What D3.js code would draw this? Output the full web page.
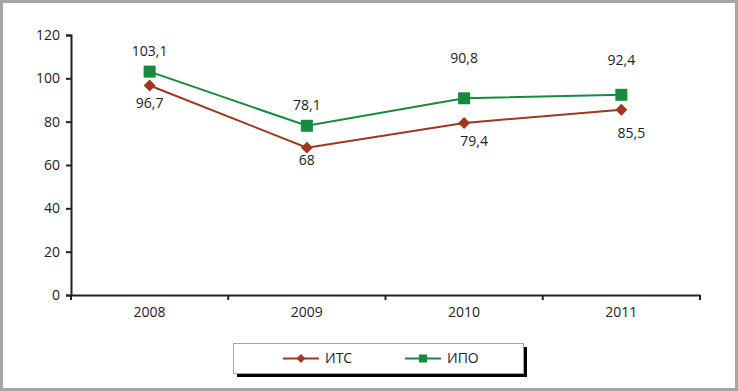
<!DOCTYPE html>
<html>
<head>
<meta charset="utf-8">
<script src="https://cdn.jsdelivr.net/npm/d3@7"></script>
<style>
  body { margin: 0; background: #fff; }
  svg { display: block; font-family: "Open Sans", sans-serif; }
</style>
</head>
<body>
<script>
// Data
const years = ["2008", "2009", "2010", "2011"];
const itsValues = [96.7, 68, 79.4, 85.5];
const ipoValues = [103.1, 78.1, 90.8, 92.4];
const yTicks = [0, 20, 40, 60, 80, 100, 120];

// label offsets (layout)
const itsLabelDy = [18, 12, 18, 23];
const itsLabelDx = [0, 0, 10, 10];
const ipoLabelDy = [-21, -21, -40, -35];

const width = 738, height = 391;
const margin = { left: 71, right: 38, top: 35, bottom: 96 };
const fontSize = 14;

const svg = d3.select("body").append("svg")
    .attr("width", width)
    .attr("height", height);

// outer frame
svg.append("rect")
    .attr("x", 1.5).attr("y", 1.5)
    .attr("width", width - 3).attr("height", height - 3)
    .attr("fill", "#fff")
    .attr("stroke", "#a6a6a6")
    .attr("stroke-width", 3);

const x = d3.scaleBand()
    .domain(years)
    .range([margin.left, width - margin.right]);

const y = d3.scaleLinear()
    .domain([0, 120])
    .range([height - margin.bottom, margin.top]);

// y axis
const yAxis = svg.append("g")
    .attr("transform", `translate(${margin.left},0)`)
    .call(d3.axisLeft(y).tickValues(yTicks).tickSize(5).tickPadding(6));
yAxis.select(".domain").attr("stroke", "#222").attr("stroke-width", 2);
yAxis.selectAll(".tick line").attr("stroke", "#222").attr("stroke-width", 2);
yAxis.selectAll("text").attr("font-size", fontSize).attr("fill", "#222")
    .attr("font-family", "Open Sans, sans-serif");

// x axis
const xAxis = svg.append("g")
    .attr("transform", `translate(0,${y(0)})`)
    .call(d3.axisBottom(x).tickSize(0).tickPadding(12));
xAxis.select(".domain").attr("stroke", "#222").attr("stroke-width", 2);
xAxis.selectAll("text").attr("font-size", fontSize).attr("fill", "#222")
    .attr("font-family", "Open Sans, sans-serif");

// category separator ticks
const bounds = years.map(d => x(d)).concat([x(years[years.length - 1]) + x.bandwidth()]);
svg.append("g").selectAll("line")
    .data(bounds)
    .join("line")
    .attr("x1", d => d).attr("x2", d => d)
    .attr("y1", y(0)).attr("y2", y(0) + 5)
    .attr("stroke", "#222")
    .attr("stroke-width", 2);

const cx = d => x(d) + x.bandwidth() / 2;

const itsColor = "#9e3720";
const ipoColor = "#178a3e";

const line = d3.line()
    .x(d => cx(d.year))
    .y(d => y(d.value));

const itsData = years.map((yr, i) => ({ year: yr, value: itsValues[i] }));
const ipoData = years.map((yr, i) => ({ year: yr, value: ipoValues[i] }));

// ИТС line
svg.append("path")
    .datum(itsData)
    .attr("fill", "none")
    .attr("stroke", itsColor)
    .attr("stroke-width", 2)
    .attr("d", line);

// ИПО line
svg.append("path")
    .datum(ipoData)
    .attr("fill", "none")
    .attr("stroke", ipoColor)
    .attr("stroke-width", 2)
    .attr("d", line);

// markers
const diamond = d3.symbol().type(d3.symbolDiamond2).size(90);

svg.append("g").selectAll("path")
    .data(itsData)
    .join("path")
    .attr("d", diamond)
    .attr("transform", d => `translate(${cx(d.year)},${y(d.value)})`)
    .attr("fill", itsColor);

svg.append("g").selectAll("rect")
    .data(ipoData)
    .join("rect")
    .attr("x", d => cx(d.year) - 6)
    .attr("y", d => y(d.value) - 6)
    .attr("width", 12).attr("height", 12)
    .attr("fill", ipoColor);

const fmt = v => String(v).replace(".", ",");

// data labels
svg.append("g").selectAll("text")
    .data(itsData)
    .join("text")
    .attr("x", (d, i) => cx(d.year) + itsLabelDx[i])
    .attr("y", (d, i) => y(d.value) + itsLabelDy[i])
    .attr("dy", "0.35em")
    .attr("text-anchor", "middle")
    .attr("font-size", fontSize)
    .attr("fill", "#222")
    .text(d => fmt(d.value));

svg.append("g").selectAll("text")
    .data(ipoData)
    .join("text")
    .attr("x", d => cx(d.year))
    .attr("y", (d, i) => y(d.value) + ipoLabelDy[i])
    .attr("dy", "0.35em")
    .attr("text-anchor", "middle")
    .attr("font-size", fontSize)
    .attr("fill", "#222")
    .text(d => fmt(d.value));

// legend
const lg = svg.append("g").attr("transform", "translate(233,343)");
lg.append("rect")
    .attr("x", 4).attr("y", 4)
    .attr("width", 290).attr("height", 30)
    .attr("fill", "#000");
lg.append("rect")
    .attr("x", 0.5).attr("y", 0.5)
    .attr("width", 290).attr("height", 30)
    .attr("fill", "#fff")
    .attr("stroke", "#a6a6a6");

const legendItems = [
    { name: "ИТС", color: itsColor, x0: 50, marker: "diamond" },
    { name: "ИПО", color: ipoColor, x0: 172, marker: "square" }
];
legendItems.forEach(it => {
    lg.append("line")
        .attr("x1", it.x0).attr("x2", it.x0 + 36)
        .attr("y1", 15.5).attr("y2", 15.5)
        .attr("stroke", it.color).attr("stroke-width", 2);
    if (it.marker === "diamond") {
        lg.append("path")
            .attr("d", d3.symbol().type(d3.symbolDiamond2).size(50))
            .attr("transform", `translate(${it.x0 + 18},15.5)`)
            .attr("fill", it.color);
    } else {
        lg.append("rect")
            .attr("x", it.x0 + 14).attr("y", 11.5)
            .attr("width", 8).attr("height", 8)
            .attr("fill", it.color);
    }
    lg.append("text")
        .attr("x", it.x0 + 42).attr("y", 15.5)
        .attr("dy", "0.35em")
        .attr("font-size", fontSize)
        .attr("fill", "#222")
        .text(it.name);
});
</script>
</body>
</html>
